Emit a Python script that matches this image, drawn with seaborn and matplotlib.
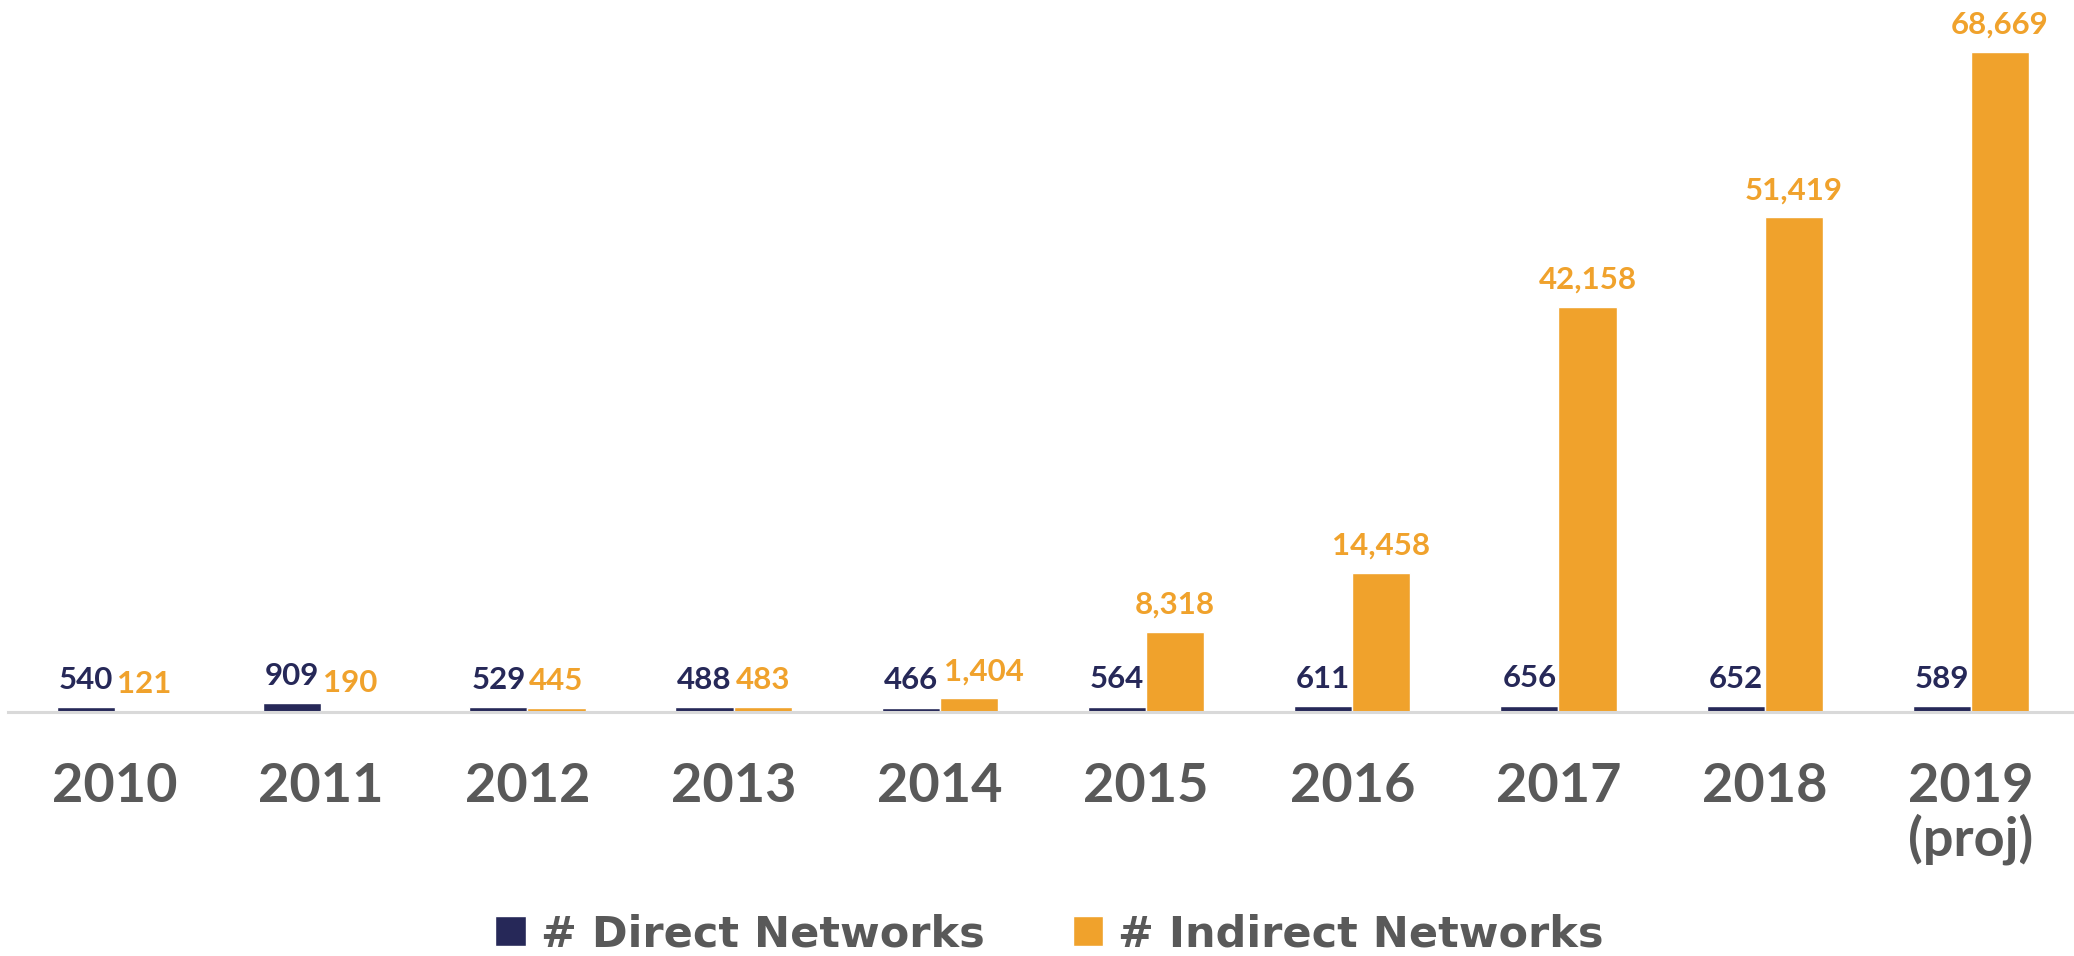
import numpy as np
import pandas as pd
import matplotlib
matplotlib.use("Agg")
import matplotlib.pyplot as plt
import seaborn as sns
from matplotlib.patches import Patch

# data
years = ['2010', '2011', '2012', '2013', '2014', '2015', '2016', '2017', '2018', '2019\n(proj)']
direct = [540, 909, 529, 488, 466, 564, 611, 656, 652, 589]
indirect = [121, 190, 445, 483, 1404, 8318, 14458, 42158, 51419, 68669]
series = ['# Direct Networks', '# Indirect Networks']

navy = '#262858'
orange = '#F0A22C'
grey = '#595959'

df = pd.DataFrame({
    'year': years * 2,
    'count': direct + indirect,
    'series': [series[0]] * len(years) + [series[1]] * len(years),
})

sns.set_style('white')
plt.rcParams['font.family'] = ['Lato', 'DejaVu Sans']

fig = plt.figure(figsize=(20.74, 9.56), dpi=100)
ax = fig.add_axes([8 / 2074, 244 / 956, 1 - 8 / 2074, 712 / 956])

sns.barplot(data=df, x='year', y='count', hue='series', order=years,
            hue_order=series, palette=[navy, orange], width=0.564, gap=0,
            saturation=1, legend=False, ax=ax)

ax.set_xlim(-0.519, 9.5)
ax.set_ylim(0, 74034)
ax.set_xlabel('')
ax.set_ylabel('')
ax.set_yticks([])
for s in ['top', 'left', 'right']:
    ax.spines[s].set_visible(False)
ax.spines['bottom'].set_color('#D9D9D9')
ax.spines['bottom'].set_linewidth(2.2)

ax.tick_params(axis='x', length=0, pad=36, labelsize=39, labelcolor=grey)
for t in ax.get_xticklabels():
    t.set_fontweight('bold')
    t.set_linespacing(1.05)

for cont, vals, col in zip(ax.containers, [direct, indirect], [navy, orange]):
    anns = ax.bar_label(cont, labels=[f'{v:,}' for v in vals], padding=9.5,
                        fontsize=22.5, fontweight='bold', color=col)
    if col == orange:
        # 1,404 sits a bit to the right in the original so it clears 466
        anns[4].xyann = (11, 9.5)

handles = [Patch(facecolor=navy), Patch(facecolor=orange)]
leg = fig.legend(handles, series, loc='center', bbox_to_anchor=(0.506, 0.023),
                 ncol=2, frameon=False, handlelength=0.7,
                 handleheight=0.7, handletextpad=0.35, columnspacing=2.05,
                 prop={'family': 'DejaVu Sans', 'weight': 'bold', 'size': 31})
for t in leg.get_texts():
    t.set_color(grey)

fig.savefig('out.png', dpi=100)
